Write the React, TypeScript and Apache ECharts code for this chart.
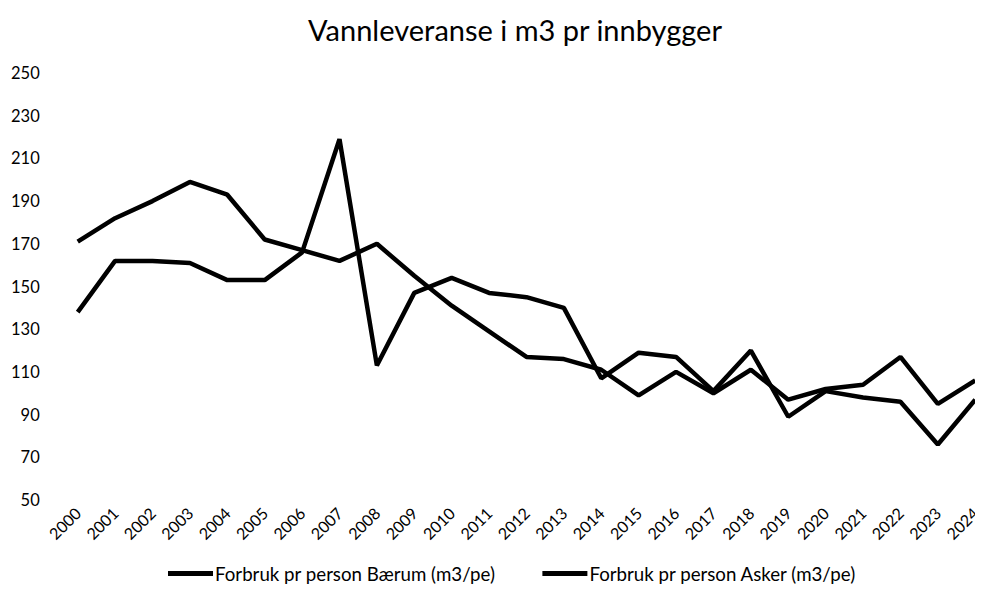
import React, { useEffect, useRef } from "react";
import * as echarts from "echarts";

const years = ["2000","2001","2002","2003","2004","2005","2006","2007","2008","2009","2010","2011","2012","2013","2014","2015","2016","2017","2018","2019","2020","2021","2022","2023","2024"];
const baerum = [171, 182, 190, 199, 193, 172, 167, 162, 170, 155, 141, 129, 117, 116, 111, 99, 110, 100, 111, 97, 102, 104, 117, 95, 106];
const asker = [138, 162, 162, 161, 153, 153, 166, 219, 113, 147, 154, 147, 145, 140, 107, 119, 117, 101, 120, 89, 101, 98, 96, 76, 97];
const seriesNames = ["Forbruk pr person Bærum (m3/pe)", "Forbruk pr person Asker (m3/pe)"];
const titleText = "Vannleveranse i m3 pr innbygger";

const FONT = "Lato";

export default function App() {
  const ref = useRef<HTMLDivElement>(null);
  useEffect(() => {
    if (!ref.current) return;
    const chart = echarts.init(ref.current, undefined, { renderer: "svg" });
    chart.setOption({
      animation: false,
      backgroundColor: "#ffffff",
      graphic: [
        {
          type: "text",
          x: 507,
          y: 21,
          style: { text: titleText, fontFamily: FONT, fontSize: 29, fill: "#000", align: "center", verticalAlign: "middle" },
        },
      ],
      legend: {
        top: 551,
        left: 155,
        itemWidth: 45,
        itemHeight: 5,
        itemGap: 47,
        icon: "rect",
        textStyle: { fontFamily: FONT, fontSize: 18.7, color: "#000", padding: [0, 0, 0, -3] },
        data: seriesNames,
      },
      grid: { left: 68, right: 7, top: 65, bottom: 104, containLabel: false },
      xAxis: {
        type: "category",
        data: years,
        boundaryGap: false,
        axisLine: { show: false },
        axisTick: { show: false },
        axisLabel: { rotate: 45, fontFamily: FONT, fontSize: 16, color: "#000", margin: 10, interval: 0 },
      },
      yAxis: {
        type: "value",
        min: 50,
        max: 250,
        interval: 20,
        splitLine: { show: false },
        axisLine: { show: false },
        axisTick: { show: false },
        axisLabel: { fontFamily: FONT, fontSize: 16.5, color: "#000", margin: 38 },
      },
      series: [
        { name: seriesNames[0], type: "line", data: baerum, showSymbol: false, symbol: "none", lineStyle: { color: "#000", width: 4.5 }, itemStyle: { color: "#000" } },
        { name: seriesNames[1], type: "line", data: asker, showSymbol: false, symbol: "none", lineStyle: { color: "#000", width: 4.5 }, itemStyle: { color: "#000" } },
      ],
    });
    return () => chart.dispose();
  }, []);
  return <div ref={ref} style={{ width: 975, height: 596 }} />;
}
